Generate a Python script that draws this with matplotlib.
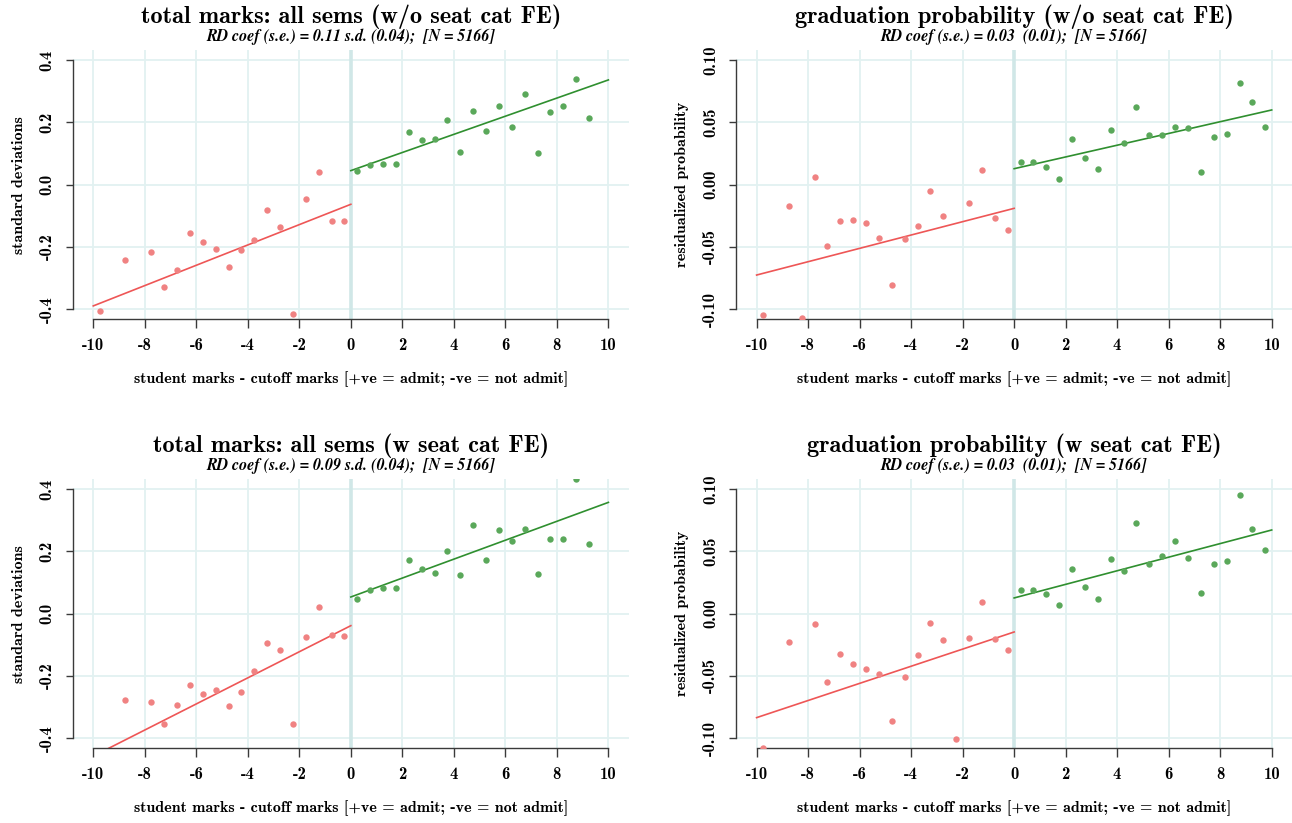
import numpy as np
import matplotlib
matplotlib.use('Agg')
import matplotlib.pyplot as plt

plt.rcParams['axes.unicode_minus'] = False

nan = np.nan

# bin centres (running variable)
bins_left = [-9.75, -9.25, -8.75, -8.25, -7.75, -7.25, -6.75, -6.25, -5.75, -5.25,
             -4.75, -4.25, -3.75, -3.25, -2.75, -2.25, -1.75, -1.25, -0.75, -0.25]
bins_right = [0.25, 0.75, 1.25, 1.75, 2.25, 2.75, 3.25, 3.75, 4.25, 4.75,
              5.25, 5.75, 6.25, 6.75, 7.25, 7.75, 8.25, 8.75, 9.25, 9.75]

# total marks, w/o seat cat FE
marks_nofe_left = [-0.405, nan, -0.243, nan, -0.215, -0.329, -0.275, -0.156, -0.184, -0.206,
                   -0.265, -0.210, -0.178, -0.081, -0.137, -0.415, -0.047, 0.039, -0.116, -0.116]
marks_nofe_right = [0.043, 0.063, 0.066, 0.065, 0.169, 0.143, 0.147, 0.206, 0.106, 0.235,
                    0.171, 0.251, 0.184, 0.291, 0.101, 0.233, 0.251, 0.338, 0.215, nan]
marks_nofe_fit = [-0.389, -0.063, 0.045, 0.336]

# graduation probability, w/o seat cat FE
grad_nofe_left = [-0.1048, nan, -0.0174, -0.1067, 0.0059, -0.0495, -0.0294, -0.0286, -0.0307, -0.0430,
                  -0.0805, -0.0436, -0.0329, -0.0048, -0.0251, nan, -0.0150, 0.0120, -0.0267, -0.0361]
grad_nofe_right = [0.0184, 0.0184, 0.0139, 0.0048, 0.0366, 0.0214, 0.0126, 0.0441, 0.0332, 0.0623,
                   0.0396, 0.0396, 0.0463, 0.0452, 0.0102, 0.0380, 0.0406, 0.0818, 0.0666, 0.0460]
grad_nofe_fit = [-0.0725, -0.0190, 0.0128, 0.0599]

# total marks, w seat cat FE
marks_fe_left = [nan, nan, -0.277, nan, -0.283, -0.354, -0.292, -0.229, -0.259, -0.244,
                 -0.297, -0.251, -0.184, -0.095, -0.116, -0.353, -0.075, 0.021, -0.068, -0.072]
marks_fe_right = [0.047, 0.075, 0.083, 0.083, 0.172, 0.144, 0.130, 0.201, 0.123, 0.286,
                  0.172, 0.267, 0.234, 0.270, 0.127, 0.241, 0.241, 0.431, 0.222, nan]
marks_fe_fit = [-0.457, -0.0385, 0.0535, 0.357]

# graduation probability, w seat cat FE
grad_fe_left = [-0.1080, nan, -0.0227, nan, -0.0083, -0.0548, -0.0324, -0.0406, -0.0441, -0.0487,
                -0.0861, -0.0508, -0.0329, -0.0075, -0.0209, -0.1008, -0.0195, 0.0096, -0.0201, -0.0291]
grad_fe_right = [0.0187, 0.0190, 0.0155, 0.0067, 0.0358, 0.0217, 0.0120, 0.0439, 0.0345, 0.0727,
                 0.0401, 0.0463, 0.0580, 0.0449, 0.0166, 0.0398, 0.0420, 0.0949, 0.0682, 0.0508]
grad_fe_fit = [-0.0834, -0.0147, 0.0126, 0.0671]

titles = ['total marks: all sems (w/o seat cat FE)',
          'graduation probability (w/o seat cat FE)',
          'total marks: all sems (w seat cat FE)',
          'graduation probability (w seat cat FE)']
subtitles = ['RD coef (s.e.) = 0.11 s.d. (0.04);  [N = 5166]',
             'RD coef (s.e.) = 0.03  (0.01);  [N = 5166]',
             'RD coef (s.e.) = 0.09 s.d. (0.04);  [N = 5166]',
             'RD coef (s.e.) = 0.03  (0.01);  [N = 5166]']
ylabels = ['standard deviations', 'residualized probability',
           'standard deviations', 'residualized probability']
xlabel = 'student marks - cutoff marks [+ve = admit; -ve = not admit]'

x_ticks = [-10, -8, -6, -4, -2, 0, 2, 4, 6, 8, 10]
marks_ticks = [-0.4, -0.2, 0.0, 0.2, 0.4]
marks_ticklabels = ['-0.4', '-0.2', '0.0', '0.2', '0.4']
grad_ticks = [-0.10, -0.05, 0.0, 0.05, 0.10]
grad_ticklabels = ['-0.10', '-0.05', '0.00', '0.05', '0.10']

panels = [
    (marks_nofe_left, marks_nofe_right, marks_nofe_fit, marks_ticks, marks_ticklabels),
    (grad_nofe_left, grad_nofe_right, grad_nofe_fit, grad_ticks, grad_ticklabels),
    (marks_fe_left, marks_fe_right, marks_fe_fit, marks_ticks, marks_ticklabels),
    (grad_fe_left, grad_fe_right, grad_fe_fit, grad_ticks, grad_ticklabels),
]

W, H = 1292, 823
# plot regions in pixels: left, top, right, bottom
regions = [(72.7, 50.0, 629.0, 319.3), (736.0, 50.0, 1292.3, 319.3),
           (72.7, 479.0, 629.0, 748.3), (736.0, 479.0, 1292.3, 748.3)]

red_pt, red_ln = '#f08282', '#ee5656'
green_pt, green_ln = '#5aa85a', '#2f8f2f'
grid_col = '#e2f1f1'
cut_col = '#d0e7e7'
axis_col = '#3a3a3a'

title_font = dict(family='cmb10', size=17.5)
label_font = dict(family='cmb10', size=11.5)
tick_font = dict(family='cmb10', size=12)
sub_font = dict(family='STIXGeneral', style='italic', weight='bold', size=11.5)

fig = plt.figure(figsize=(W / 100, H / 100), dpi=100)

for i, (yl, yr, fit, yt, ytl) in enumerate(panels):
    l, t, r, b = regions[i]
    ax = fig.add_axes([l / W, (H - b) / H, (r - l) / W, (b - t) / H])
    ymax = yt[-1] * 1.08
    ax.set_xlim(-10.8, 10.8)
    ax.set_ylim(-ymax, ymax)

    for xv in x_ticks:
        ax.axvline(xv, color=grid_col, lw=1.3, zorder=0)
    for yv in yt:
        ax.axhline(yv, color=grid_col, lw=1.3, zorder=0)
    ax.axvline(0, color=cut_col, lw=2.6, zorder=1)

    ax.plot([-10, 0], fit[:2], color=red_ln, lw=1.2, zorder=2)
    ax.plot([0, 10], fit[2:], color=green_ln, lw=1.2, zorder=2)
    ax.plot(bins_left, yl, 'o', color=red_pt, ms=4.6, mew=0, zorder=3)
    ax.plot(bins_right, yr, 'o', color=green_pt, ms=4.6, mew=0, zorder=3)

    for s in ['top', 'right']:
        ax.spines[s].set_visible(False)
    ax.spines['left'].set_bounds(yt[0], yt[-1])
    ax.spines['bottom'].set_bounds(-10, 10)
    for s in ['left', 'bottom']:
        ax.spines[s].set_color(axis_col)
        ax.spines[s].set_linewidth(1.0)

    ax.set_xticks(x_ticks)
    ax.set_xticklabels([str(v) for v in x_ticks], fontdict=tick_font)
    ax.set_yticks(yt)
    ax.set_yticklabels(ytl, fontdict=tick_font, rotation=90, va='center')
    ax.tick_params(axis='x', direction='out', length=6.5, width=1.0, color=axis_col, pad=7)
    ax.tick_params(axis='y', direction='out', length=5, width=1.0, color=axis_col, pad=8)

    ax.set_xlabel(xlabel, fontdict=label_font, labelpad=13)
    ax.set_ylabel(ylabels[i], fontdict=label_font, labelpad=10)

    cx = (l + r) / 2 / W
    fig.text(cx, (H - (t - 33)) / H, titles[i], ha='center', va='center', **title_font)
    fig.text(cx, (H - (t - 13)) / H, subtitles[i], ha='center', va='center', **sub_font)

fig.savefig('out.png', dpi=100)
